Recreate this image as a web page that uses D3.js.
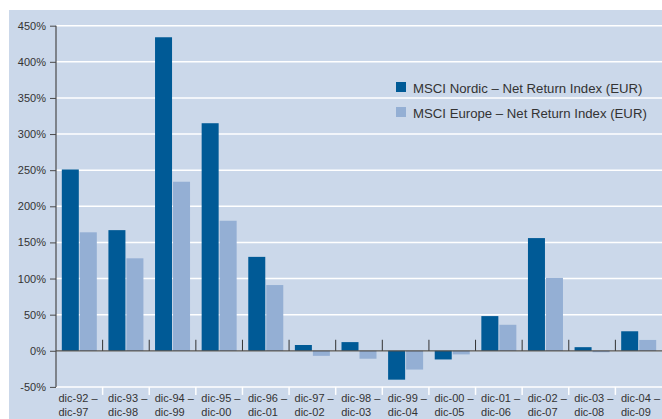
<!DOCTYPE html>
<html>
<head>
<meta charset="utf-8">
<script src="https://d3js.org/d3.v7.min.js"></script>
<style>
  body { margin: 0; background: #fff; }
  svg { display: block; font-family: "Liberation Sans", Arial, sans-serif; }
</style>
</head>
<body>
<script>
var periods = [["dic-92 –", "dic-97"], ["dic-93 –", "dic-98"], ["dic-94 –", "dic-99"],
    ["dic-95 –", "dic-00"], ["dic-96 –", "dic-01"], ["dic-97 –", "dic-02"],
    ["dic-98 –", "dic-03"], ["dic-99 –", "dic-04"], ["dic-00 –", "dic-05"],
    ["dic-01 –", "dic-06"], ["dic-02 –", "dic-07"], ["dic-03 –", "dic-08"],
    ["dic-04 –", "dic-09"]];
var nordic = [251, 167, 434, 315, 130, 8, 12, -40, -12, 48, 156, 5, 27];
var europe = [164, 128, 234, 180, 91, -7, -11, -26, -5, 36, 101, -2, 15];
var yTicks = [-50, 0, 50, 100, 150, 200, 250, 300, 350, 400, 450];
var seriesNames = ["MSCI Nordic – Net Return Index (EUR)", "MSCI Europe – Net Return Index (EUR)"];
var seriesColors = ["#005a96", "#94afd4"];

var W = 662, H = 419;
var margin = { left: 56, right: 0, top: 25.7, bottom: 32 };

var svg = d3.select("body").append("svg")
    .attr("width", W)
    .attr("height", H);

// panel background
svg.append("rect")
    .attr("x", 9).attr("y", 10)
    .attr("width", W - 9).attr("height", H - 10)
    .attr("fill", "#cbd8ea");

var x = d3.scaleBand()
    .domain(d3.range(periods.length))
    .range([margin.left, W]);

var y = d3.scaleLinear()
    .domain([-50, 450])
    .range([386.9, margin.top]);

// gridlines
svg.append("g").selectAll("line")
    .data(yTicks)
    .enter().append("line")
    .attr("x1", margin.left).attr("x2", W)
    .attr("y1", function(d) { return y(d); })
    .attr("y2", function(d) { return y(d); })
    .attr("stroke", "#fff")
    .attr("stroke-width", 1.5);

// white ticks below bottom gridline
svg.append("g").selectAll("line")
    .data(d3.range(1, periods.length))
    .enter().append("line")
    .attr("x1", function(d) { return x(d); })
    .attr("x2", function(d) { return x(d); })
    .attr("y1", y(-50)).attr("y2", y(-50) + 8)
    .attr("stroke", "#fff")
    .attr("stroke-width", 1.5);

// bars
var sub = 17, gap = 1;
var pad = (x.bandwidth() - 2 * sub - gap) / 2;
[nordic, europe].forEach(function(series, s) {
    svg.append("g").selectAll("rect")
        .data(series)
        .enter().append("rect")
        .attr("x", function(d, i) { return x(i) + pad + s * (sub + gap); })
        .attr("y", function(d) { return y(Math.max(0, d)); })
        .attr("width", sub)
        .attr("height", function(d) { return Math.abs(y(d) - y(0)); })
        .attr("fill", seriesColors[s]);
});

// zero line
svg.append("line")
    .attr("x1", margin.left).attr("x2", W)
    .attr("y1", y(0)).attr("y2", y(0))
    .attr("stroke", "#4a4a4a")
    .attr("stroke-width", 1.2);

// ticks up from zero line
svg.append("g").selectAll("line")
    .data(d3.range(1, periods.length))
    .enter().append("line")
    .attr("x1", function(d) { return x(d); })
    .attr("x2", function(d) { return x(d); })
    .attr("y1", y(0) - 11).attr("y2", y(0))
    .attr("stroke", "#333")
    .attr("stroke-width", 1);

// y axis
var yAxis = d3.axisLeft(y)
    .tickValues(yTicks)
    .tickSize(6)
    .tickPadding(4)
    .tickFormat(function(d) { return d + "%"; });
var ya = svg.append("g")
    .attr("transform", "translate(" + margin.left + ",0)")
    .call(yAxis);
ya.select(".domain").attr("stroke", "#4a4a4a").attr("stroke-width", 1.2)
    .attr("d", "M0," + y(450) + "V" + y(-50));
ya.selectAll(".tick line").attr("stroke", "#4a4a4a");
ya.selectAll(".tick text")
    .attr("fill", "#333")
    .style("font-size", "11px");

// x labels (left aligned inside each band)
var xl = svg.append("g").selectAll("text")
    .data(periods)
    .enter().append("text")
    .attr("fill", "#333")
    .style("font-size", "11px");
function labelX(d, i) { return x(i) + (i === 0 ? 2.5 : 5.5); }
xl.append("tspan")
    .attr("x", labelX)
    .attr("y", 402)
    .text(function(d) { return d[0]; });
xl.append("tspan")
    .attr("x", labelX)
    .attr("y", 415.5)
    .text(function(d) { return d[1]; });

// legend
var lg = svg.append("g").selectAll("g")
    .data(seriesNames)
    .enter().append("g")
    .attr("transform", function(d, i) { return "translate(396," + (82 + i * 25) + ")"; });
lg.append("rect")
    .attr("width", 10).attr("height", 10)
    .attr("fill", function(d, i) { return seriesColors[i]; });
lg.append("text")
    .attr("x", 17).attr("y", 10.5)
    .attr("fill", "#333")
    .style("font-size", "13.2px")
    .text(function(d) { return d; });
</script>
</body>
</html>
